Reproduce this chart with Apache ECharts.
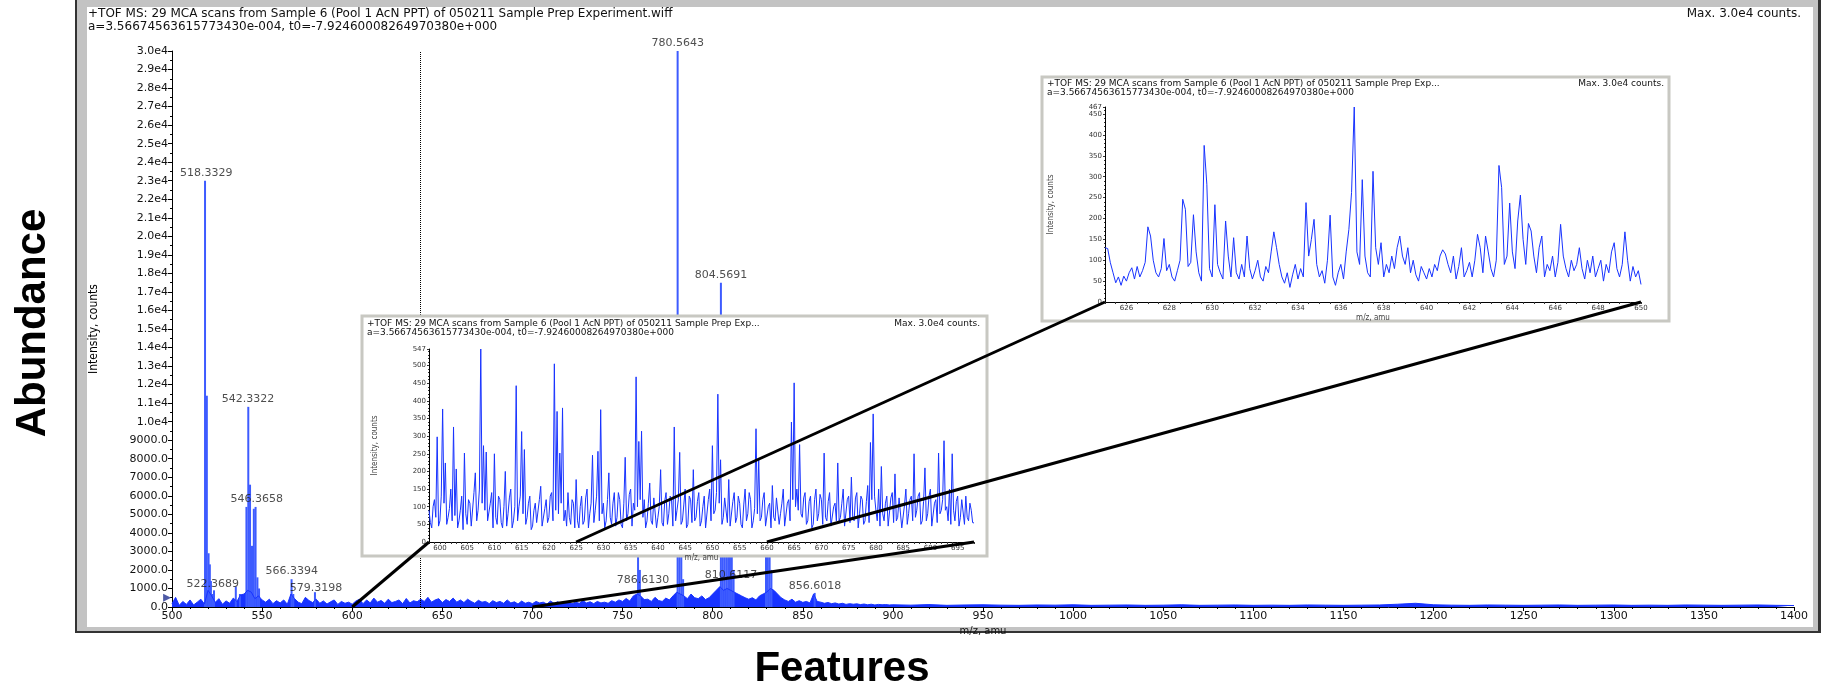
<!DOCTYPE html>
<html>
<head>
<meta charset="utf-8">
<script src="https://cdn.jsdelivr.net/npm/echarts@6/dist/echarts.min.js"></script>
<style>
html, body { margin: 0; padding: 0; background: #fff; }
#chart { width: 1824px; height: 684px; }
</style>
</head>
<body>
<div id="chart"></div>
<script>
// main spectrum, noise floor 500-900 (step 2) and the flat tail 910-1400 (step 10)
var mainStart = 500, mainStep = 2;
var mainNoise = [
    180, 520, 90, 300, 140, 380, 110, 260, 420, 160,
    900, 600, 250, 450, 150, 330, 200, 480, 300, 650,
    700, 900, 800, 450, 600, 380, 260, 420, 180, 340,
    220, 380, 150, 700, 450, 260, 180, 520, 350, 240,
    420, 200, 330, 160, 280, 380, 140, 300, 200, 260,
    150, 320, 420, 180, 380, 220, 480, 260, 350, 200,
    420, 240, 300, 380, 180, 460, 220, 340, 280, 420,
    300, 520, 260, 380, 450, 240, 400, 300, 480, 260,
    380, 240, 420, 300, 200, 360, 260, 300, 180, 340,
    240, 300, 200, 380, 220, 280, 160, 320, 200, 260,
    180, 300, 220, 260, 160, 320, 200, 280, 180, 240,
    300, 180, 260, 200, 340, 220, 280, 180, 300, 220,
    260, 200, 340, 260, 380, 300, 460, 320, 600, 700,
    600, 400, 420, 300, 520, 350, 300, 480, 380, 600,
    800, 700, 600, 450, 700, 500, 450, 600, 400, 500,
    700, 900, 1100, 900, 1000, 900, 800, 700, 600, 500,
    420, 500, 380, 600, 700, 800, 1000, 900, 700, 500,
    380, 300, 420, 260, 340, 250, 300, 220, 700, 300,
    260, 200, 240, 180, 220, 160, 200, 140, 180, 150,
    170, 130, 160, 120, 150, 110, 140, 120, 130, 110,
    120
];
var tailStart = 910, tailStep = 10;
var tailNoise = [
    100, 130, 90, 110, 120, 100, 90, 110, 100, 120,
    90, 100, 110, 90, 100, 120, 90, 100, 110, 90,
    100, 90, 110, 100, 90, 100, 110, 150, 200, 120,
    100, 90, 110, 100, 90, 100, 110, 90, 100, 110,
    90, 100, 90, 110, 100, 90, 100, 110, 90, 80
];

// tall peaks (m/z, counts)
var peakMz = [518.33, 519.33, 520.3, 521.0, 521.6, 522.37, 523.3, 535.4, 537.7, 541.3,
    542.33, 543.3, 544.4, 545.4, 546.37, 547.4, 548.3, 566.34, 567.3, 579.32,
    758.6, 759.6, 780.56, 781.56, 782.6, 783.6, 804.57, 805.6, 806.6, 807.6,
    808.6, 809.6, 810.61, 811.6, 829.6, 830.6, 831.6, 832.6, 856.6];
var peakVal = [23000, 11400, 2900, 2300, 1400, 700, 900, 1100, 700, 5400,
    10800, 6600, 3300, 5300, 5400, 1600, 1000, 1500, 700, 800,
    4500, 2000, 30000, 6000, 3500, 1500, 17500, 8000, 5000, 4000,
    4500, 3500, 3500, 2000, 4000, 6000, 5000, 2000, 760];

// peak annotations
var labelText = ['518.3329', '522.3689', '542.3322', '546.3658', '566.3394', '579.3198',
    '780.5643', '804.5691', '786.6130', '810.6117', '856.6018'];
var labelMz = [519.0, 522.6, 542.2, 547.0, 566.4, 579.9, 780.6, 804.6, 761.4, 810.2, 856.8];
var labelVal = [23000, 810, 10800, 5400, 1510, 590, 30000, 17500, 1025, 1300, 700];

var cursorMz = 637.6;
var thresholdMark = [497.3, 500];

// zoom inset 1: 598-698, step 0.25
var inset1Start = 598, inset1Step = 0.25;
var inset1Values = [
    90, 55, 40, 100, 120, 70, 298, 45, 60, 130, 377, 110, 224, 50, 70, 95, 150, 60, 326, 75,
    207, 40, 60, 90, 130, 35, 252, 80, 50, 120, 110, 45, 40, 140, 196, 60, 90, 150, 547, 110,
    273, 90, 255, 60, 60, 110, 140, 40, 250, 70, 50, 130, 120, 55, 40, 100, 200, 45, 80, 125,
    150, 40, 60, 100, 443, 60, 100, 130, 313, 80, 262, 50, 70, 110, 130, 35, 45, 90, 110, 55,
    60, 120, 158, 45, 40, 95, 120, 55, 70, 130, 140, 60, 505, 90, 370, 80, 252, 110, 380, 60,
    90, 45, 140, 70, 50, 120, 110, 40, 177, 60, 40, 100, 130, 50, 60, 125, 150, 40, 80, 110,
    246, 55, 90, 130, 257, 60, 375, 80, 110, 40, 60, 120, 196, 70, 50, 110, 140, 45, 70, 140,
    120, 50, 40, 110, 240, 60, 80, 135, 150, 45, 110, 90, 468, 100, 285, 120, 314, 70, 120, 40,
    60, 110, 167, 60, 50, 125, 130, 40, 70, 100, 205, 55, 45, 115, 140, 50, 80, 130, 120, 45,
    326, 60, 90, 120, 254, 50, 60, 105, 150, 40, 50, 130, 120, 55, 205, 60, 70, 115, 140, 45,
    60, 100, 130, 40, 45, 120, 150, 60, 273, 80, 90, 140, 419, 110, 233, 50, 70, 125, 120, 55,
    177, 45, 50, 115, 140, 55, 70, 130, 110, 50, 40, 105, 150, 60, 80, 140, 120, 40, 60, 95,
    321, 80, 233, 60, 70, 120, 140, 45, 50, 100, 110, 40, 160, 70, 60, 125, 130, 50, 80, 110,
    150, 45, 50, 110, 120, 60, 340, 120, 451, 100, 150, 90, 276, 80, 70, 125, 140, 50, 60, 115,
    130, 40, 50, 120, 150, 60, 80, 135, 120, 50, 252, 70, 60, 115, 140, 45, 45, 100, 110, 60,
    224, 60, 70, 110, 150, 45, 50, 120, 130, 55, 184, 70, 60, 125, 140, 40, 80, 130, 120, 50,
    60, 115, 160, 55, 282, 120, 363, 130, 90, 60, 150, 45, 214, 80, 60, 110, 130, 45, 50, 125,
    140, 55, 193, 60, 70, 125, 120, 40, 45, 105, 150, 50, 80, 120, 130, 60, 250, 70, 90, 130,
    140, 50, 60, 115, 210, 60, 80, 130, 150, 45, 50, 110, 120, 55, 252, 80, 90, 120, 287, 90,
    100, 60, 150, 50, 250, 90, 60, 115, 130, 45, 70, 120, 120, 50, 130, 70, 60, 110, 90, 55,
    54
];
var inset1XLabels = [600, 605, 610, 615, 620, 625, 630, 635, 640, 645, 650, 655, 660, 665, 670, 675, 680, 685, 690, 695];
var inset1YLabels = [0, 50, 100, 150, 200, 250, 300, 350, 400, 450, 500, 547];

// zoom inset 2: 625-650, step 0.125
var inset2Start = 625, inset2Step = 0.125;
var inset2Values = [
    130, 128, 94, 70, 46, 60, 40, 62,
    50, 70, 82, 55, 85, 60, 75, 95,
    180, 158, 100, 70, 60, 80, 152, 75,
    90, 60, 50, 75, 100, 246, 222, 85,
    95, 209, 120, 70, 50, 375, 282, 80,
    60, 233, 90, 70, 55, 194, 110, 60,
    154, 70, 55, 90, 60, 158, 80, 55,
    75, 100, 60, 50, 85, 70, 120, 168,
    130, 90, 60, 45, 70, 35, 65, 90,
    55, 80, 60, 238, 110, 150, 198, 90,
    60, 75, 45, 100, 208, 60, 40, 70,
    90, 55, 120, 174, 262, 467, 120, 90,
    293, 110, 70, 60, 313, 130, 90, 142,
    60, 90, 70, 110, 80, 130, 158, 110,
    90, 130, 70, 100, 65, 50, 85, 70,
    55, 80, 60, 90, 75, 110, 125, 115,
    90, 70, 110, 55, 85, 130, 60, 75,
    95, 60, 100, 162, 130, 70, 158, 120,
    80, 60, 100, 327, 274, 90, 110, 237,
    120, 80, 194, 256, 150, 90, 188, 170,
    110, 70, 130, 158, 60, 90, 75, 110,
    60, 95, 186, 110, 80, 60, 100, 75,
    90, 130, 80, 55, 100, 70, 110, 60,
    80, 100, 50, 90, 70, 120, 142, 80,
    60, 90, 168, 100, 50, 85, 60, 75,
    42
];
var inset2XLabels = [626, 628, 630, 632, 634, 636, 638, 640, 642, 644, 646, 648, 650];
var inset2YLabels = [0, 50, 100, 150, 200, 250, 300, 350, 400, 450, 467];

// zoom connectors: [axis from, m/z from, axis to, m/z to]
var zoomLinks = [[0, 600, 1, 598], [0, 700, 1, 698], [1, 625, 2, 625], [1, 660, 2, 650]];

var headerLine1 = '+TOF MS: 29 MCA scans from Sample 6 (Pool 1 AcN PPT) of 050211 Sample Prep Experiment.wiff';
var headerShort = '+TOF MS: 29 MCA scans from Sample 6 (Pool 1 AcN PPT) of 050211 Sample Prep Exp...';
var headerLine2 = 'a=3.56674563615773430e-004, t0=-7.92460008264970380e+000';
var headerMax = 'Max. 3.0e4 counts.';

var BLUE = '#1833ff';
var FONT = 'DejaVu Sans';
var NARROW = '"Liberation Sans Narrow", "DejaVu Sans Condensed", "Liberation Sans", sans-serif';

function series(start, step, vals) {
    var out = [];
    for (var i = 0; i < vals.length; i++) out.push([start + i * step, vals[i]]);
    return out;
}
var mainLine = series(mainStart, mainStep, mainNoise).concat(series(tailStart, tailStep, tailNoise));
var peaks = peakMz.map(function (m, i) { return [m, peakVal[i]]; });
var labels = labelMz.map(function (m, i) { return [m, labelVal[i]]; });

var chart = echarts.init(document.getElementById('chart'));

function valueAxis(o) {
    var base = {
        type: 'value',
        axisLine: { show: true, onZero: false, lineStyle: { color: '#000', width: 1 } },
        axisTick: { show: true, length: 4, lineStyle: { color: '#000' } },
        splitLine: { show: false },
        axisLabel: { color: '#111', fontFamily: FONT, fontSize: 11, margin: 4,
            formatter: function (v) { return String(v); } }
    };
    for (var k in o) base[k] = o[k];
    return base;
}
var smallLabel = { color: '#333', fontFamily: FONT, fontSize: 7, margin: 3 };
var smallName = { color: '#444', fontFamily: NARROW, fontSize: 8 };

function headerTexts(id, x, y, right, line1, size, gap, z) {
    return [
        { type: 'text', id: id + 'h1', x: x, y: y, z: z, style: { text: line1, fill: '#111', font: size + 'px ' + FONT, textVerticalAlign: 'middle' } },
        { type: 'text', id: id + 'h2', x: x, y: y + gap, z: z, style: { text: headerLine2, fill: '#111', font: size + 'px ' + FONT, textVerticalAlign: 'middle' } },
        { type: 'text', id: id + 'hm', x: right, y: y, z: z, style: { text: headerMax, fill: '#111', font: size + 'px ' + FONT, textAlign: 'right', textVerticalAlign: 'middle' } }
    ];
}

var graphics = [
    { type: 'rect', id: 'win', z: 0, shape: { x: 75, y: 0, width: 1746, height: 633 }, style: { fill: '#c3c3c3' } },
    { type: 'rect', id: 'winL', z: 0, shape: { x: 75, y: 0, width: 2, height: 633 }, style: { fill: '#333' } },
    { type: 'rect', id: 'winR', z: 0, shape: { x: 1818, y: 0, width: 3, height: 633 }, style: { fill: '#333' } },
    { type: 'rect', id: 'winB', z: 0, shape: { x: 75, y: 631, width: 1746, height: 2 }, style: { fill: '#333' } },
    { type: 'rect', id: 'winIn', z: 0, shape: { x: 87, y: 7, width: 1726, height: 620 }, style: { fill: '#fff' } },
    { type: 'rect', id: 'in1', z: 10, shape: { x: 362, y: 316, width: 625, height: 240 }, style: { fill: '#fff', stroke: '#c8c8c2', lineWidth: 3 } },
    { type: 'rect', id: 'in2', z: 20, shape: { x: 1042, y: 77, width: 627, height: 244 }, style: { fill: '#fff', stroke: '#c8c8c2', lineWidth: 3 } },
    { type: 'text', id: 'abund', x: 33, y: 323, rotation: Math.PI / 2, z: 1,
      style: { text: 'Abundance', fill: '#000', font: 'bold 42px "Liberation Sans", Arial, sans-serif', textAlign: 'center', textVerticalAlign: 'middle' } },
    { type: 'text', id: 'feat', x: 842, y: 669, z: 1,
      style: { text: 'Features', fill: '#000', font: 'bold 42px "Liberation Sans", Arial, sans-serif', textAlign: 'center', textVerticalAlign: 'middle' } }
]
    .concat(headerTexts('m', 88, 14, 1801, headerLine1, 12, 13, 1))
    .concat(headerTexts('a', 367, 324, 980, headerShort, 9, 9, 11))
    .concat(headerTexts('b', 1047, 84, 1664, headerShort, 9, 9, 21));

var option = {
    animation: false,
    backgroundColor: '#fff',
    grid: [
        { left: 172, right: 30, top: 51, bottom: 77 },
        { left: 429, right: 850, top: 349, bottom: 142 },
        { left: 1105, right: 183, top: 107, bottom: 382 }
    ],
    xAxis: [
        valueAxis({ gridIndex: 0, min: 500, max: 1400, interval: 50, z: 3,
            minorTick: { show: true, splitNumber: 5, length: 2, lineStyle: { color: '#000' } },
            name: 'm/z, amu', nameLocation: 'middle', nameGap: 16,
            nameTextStyle: { color: '#111', fontFamily: FONT, fontSize: 10 } }),
        valueAxis({ gridIndex: 1, min: 598, max: 698, interval: 1, z: 12,
            axisTick: { show: true, length: 2, lineStyle: { color: '#333' } },
            axisLabel: Object.assign({ customValues: inset1XLabels }, smallLabel),
            name: 'm/z, amu', nameLocation: 'middle', nameGap: 12, nameTextStyle: smallName }),
        valueAxis({ gridIndex: 2, min: 625, max: 650, interval: 0.5, z: 22,
            axisTick: { show: true, length: 2, lineStyle: { color: '#333' } },
            axisLabel: Object.assign({ customValues: inset2XLabels }, smallLabel),
            name: 'm/z, amu', nameLocation: 'middle', nameGap: 12, nameTextStyle: smallName })
    ],
    yAxis: [
        valueAxis({ gridIndex: 0, min: 0, max: 30000, interval: 1000, z: 3,
            minorTick: { show: true, splitNumber: 2, length: 2, lineStyle: { color: '#000' } },
            axisLabel: { color: '#111', fontFamily: FONT, fontSize: 11, margin: 4,
                formatter: function (v) { return v < 10000 ? v.toFixed(1) : (v / 10000).toFixed(1) + 'e4'; } },
            name: 'Intensity, counts', nameLocation: 'middle', nameRotate: 90, nameGap: 72,
            nameTextStyle: { color: '#000', fontFamily: NARROW, fontSize: 12 } }),
        valueAxis({ gridIndex: 1, min: 0, max: 547, interval: 50, z: 12,
            axisTick: { show: true, length: 2, lineStyle: { color: '#333' } },
            minorTick: { show: true, splitNumber: 5, length: 1, lineStyle: { color: '#333' } },
            axisLabel: Object.assign({ customValues: inset1YLabels }, smallLabel),
            name: 'Intensity, counts', nameLocation: 'middle', nameRotate: 90, nameGap: 50, nameTextStyle: smallName }),
        valueAxis({ gridIndex: 2, min: 0, max: 467, interval: 50, z: 22,
            axisTick: { show: true, length: 2, lineStyle: { color: '#333' } },
            minorTick: { show: true, splitNumber: 5, length: 1, lineStyle: { color: '#333' } },
            axisLabel: Object.assign({ customValues: inset2YLabels }, smallLabel),
            name: 'Intensity, counts', nameLocation: 'middle', nameRotate: 90, nameGap: 50, nameTextStyle: smallName })
    ],
    series: [
        {
            type: 'line', xAxisIndex: 0, yAxisIndex: 0, z: 4, data: mainLine,
            showSymbol: false, symbol: 'none', lineStyle: { color: BLUE, width: 1 },
            areaStyle: { color: BLUE, opacity: 1 },
            markLine: { silent: true, symbol: 'none', label: { show: false },
                lineStyle: { color: '#000', type: 'dotted', width: 1 }, data: [{ xAxis: cursorMz }] }
        },
        {
            type: 'bar', xAxisIndex: 0, yAxisIndex: 0, z: 4, data: peaks, barWidth: 2,
            itemStyle: { color: '#3d5bff' }
        },
        {
            type: 'scatter', xAxisIndex: 0, yAxisIndex: 0, z: 5, data: labels, symbolSize: 0,
            label: { show: true, position: 'top', distance: 2, color: '#222', fontFamily: FONT, fontSize: 11,
                formatter: function (p) { return labelText[p.dataIndex]; } }
        },
        {
            type: 'scatter', xAxisIndex: 0, yAxisIndex: 0, z: 5, clip: false, data: [thresholdMark],
            symbol: 'triangle', symbolRotate: -90, symbolSize: 8, itemStyle: { color: '#20308f' }
        },
        {
            type: 'line', xAxisIndex: 1, yAxisIndex: 1, z: 13, data: series(inset1Start, inset1Step, inset1Values),
            showSymbol: false, symbol: 'none', lineStyle: { color: BLUE, width: 1 }
        },
        {
            type: 'line', xAxisIndex: 2, yAxisIndex: 2, z: 23, data: series(inset2Start, inset2Step, inset2Values),
            showSymbol: false, symbol: 'none', lineStyle: { color: BLUE, width: 1 }
        }
    ],
    graphic: graphics
};
chart.setOption(option);

// connector lines between the zoomed ranges, placed through the axes
var links = zoomLinks.map(function (l, i) {
    var a = chart.convertToPixel({ xAxisIndex: l[0], yAxisIndex: l[0] }, [l[1], 0]);
    var b = chart.convertToPixel({ xAxisIndex: l[2], yAxisIndex: l[2] }, [l[3], 0]);
    return { type: 'line', id: 'link' + i, z: 30,
        shape: { x1: a[0], y1: a[1], x2: b[0], y2: b[1] }, style: { stroke: '#000', lineWidth: 3 } };
});
chart.setOption({ graphic: graphics.concat(links) });

window.addEventListener('resize', function () { chart.resize(); });
</script>
</body>
</html>
